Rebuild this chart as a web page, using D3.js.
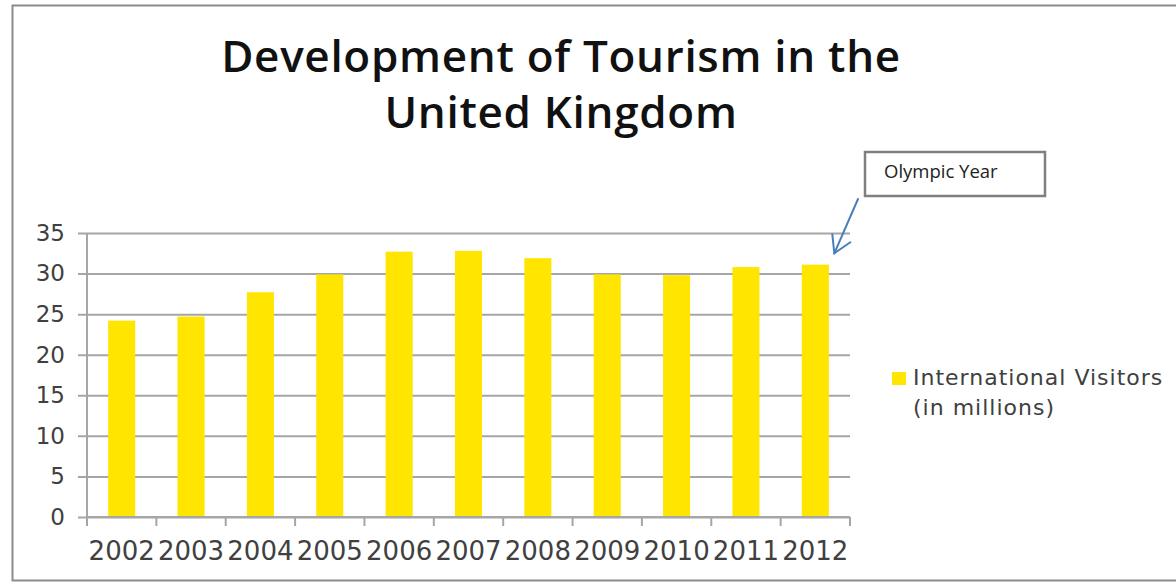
<!DOCTYPE html>
<html>
<head>
<meta charset="utf-8">
<script src="https://cdn.jsdelivr.net/npm/d3@7"></script>
<style>
  body { margin: 0; background: #fff; }
  svg { display: block; }
</style>
</head>
<body>
<svg id="chart" width="1176" height="583"></svg>
<script>
// data
const years = ['2002', '2003', '2004', '2005', '2006', '2007', '2008', '2009', '2010', '2011', '2012'];
const visitors = [24.2, 24.7, 27.7, 29.9, 32.7, 32.8, 31.9, 29.9, 29.8, 30.8, 31.1];
const yTicks = [0, 5, 10, 15, 20, 25, 30, 35];
const titleLines = ['Development of Tourism in the', 'United Kingdom'];
const legendLines = ['International Visitors', '(in millions)'];
const noteText = 'Olympic Year';

const W = 1176, H = 583;
const margin = { left: 87, right: 326, top: 233, bottom: 66 };
const barColor = '#FFE500';
const gridColor = '#a6a6a6';
const textColor = '#404040';

const svg = d3.select('#chart');

// outer frame
svg.append('rect')
  .attr('x', 12.5).attr('y', 5.5)
  .attr('width', W).attr('height', H - 8)
  .attr('fill', 'none').attr('stroke', '#8c8c8c').attr('stroke-width', 2);

const x = d3.scaleBand()
  .domain(years)
  .range([margin.left, W - margin.right])
  .paddingInner(0.61).paddingOuter(0.305);

const y = d3.scaleLinear()
  .domain([0, 35])
  .range([H - margin.bottom, margin.top]);

// gridlines + y axis labels
const yAxis = d3.axisLeft(y)
  .tickValues(yTicks)
  .tickSize(-(W - margin.right - margin.left) - 9)
  .tickPadding(15)
  .tickFormat(d3.format('d'));

const gy = svg.append('g')
  .attr('transform', `translate(${margin.left - 9},0)`)
  .call(yAxis);
gy.select('.domain').remove();
gy.selectAll('.tick line')
  .attr('stroke', gridColor).attr('stroke-width', 2);
gy.selectAll('.tick text')
  .attr('x', -13)
  .attr('fill', textColor)
  .style('font-family', '"DejaVu Sans", sans-serif')
  .style('font-size', '23px');

// vertical axis line
svg.append('line')
  .attr('x1', margin.left).attr('x2', margin.left)
  .attr('y1', y(35)).attr('y2', y(0))
  .attr('stroke', gridColor).attr('stroke-width', 2);

// bars
svg.append('g').selectAll('rect')
  .data(years.map((yr, i) => ({ yr, v: visitors[i] })))
  .join('rect')
  .attr('x', d => x(d.yr))
  .attr('width', x.bandwidth())
  .attr('y', d => y(d.v))
  .attr('height', d => y(0) - y(d.v))
  .attr('fill', barColor);

// x axis: ticks on band edges, labels centred in bands
const gx = svg.append('g')
  .attr('transform', `translate(0,${y(0)})`);
gx.append('line')
  .attr('x1', margin.left).attr('x2', W - margin.right)
  .attr('stroke', gridColor).attr('stroke-width', 2);
const step = x.step();
const edges = d3.range(years.length + 1).map(i => margin.left + i * step);
gx.selectAll('.edge')
  .data(edges)
  .join('line')
  .attr('class', 'edge')
  .attr('x1', d => d).attr('x2', d => d)
  .attr('y1', 0).attr('y2', 9)
  .attr('stroke', gridColor).attr('stroke-width', 2);
gx.selectAll('text')
  .data(years)
  .join('text')
  .attr('x', d => x(d) + x.bandwidth() / 2)
  .attr('y', 43)
  .attr('text-anchor', 'middle')
  .attr('fill', textColor)
  .style('font-family', '"DejaVu Sans", sans-serif')
  .style('font-size', '26px')
  .text(d => d);

// title
svg.append('g').selectAll('text')
  .data(titleLines)
  .join('text')
  .attr('x', 561)
  .attr('y', (d, i) => 72 + i * 56)
  .attr('text-anchor', 'middle')
  .attr('fill', '#111')
  .style('font-family', '"Open Sans", sans-serif')
  .style('font-weight', 600)
  .style('font-size', '44px')
  .style('letter-spacing', '0.7px')
  .text(d => d);

// legend
const lg = svg.append('g').attr('transform', 'translate(892,372)');
lg.append('rect')
  .attr('width', 14).attr('height', 13)
  .attr('fill', barColor);
lg.selectAll('text')
  .data(legendLines)
  .join('text')
  .attr('x', 21)
  .attr('y', (d, i) => 13 + i * 30)
  .attr('fill', textColor)
  .style('font-family', '"DejaVu Sans", sans-serif')
  .style('font-size', '22px')
  .style('letter-spacing', '1px')
  .text(d => d);

// callout box + arrow
const last = years[years.length - 1];
const tipX = x(last) + x.bandwidth() / 2 + 19;
const tipY = y(32.5);
svg.append('rect')
  .attr('x', 865).attr('y', 152)
  .attr('width', 180).attr('height', 44)
  .attr('fill', '#fff')
  .attr('stroke', '#7f7f7f').attr('stroke-width', 2.5);
svg.append('text')
  .attr('x', 884).attr('y', 178)
  .attr('fill', '#222')
  .style('font-family', '"Open Sans", sans-serif')
  .style('font-size', '18.5px')
  .text(noteText);

const arrow = svg.append('g')
  .attr('stroke', '#4a7ebb').attr('stroke-width', 2)
  .attr('fill', 'none').attr('stroke-linecap', 'round');
arrow.append('line')
  .attr('x1', 858).attr('y1', 199)
  .attr('x2', tipX).attr('y2', tipY);
arrow.append('polyline')
  .attr('points', `${tipX - 2},${tipY - 19} ${tipX},${tipY} ${tipX + 16},${tipY - 11}`);
</script>
</body>
</html>
